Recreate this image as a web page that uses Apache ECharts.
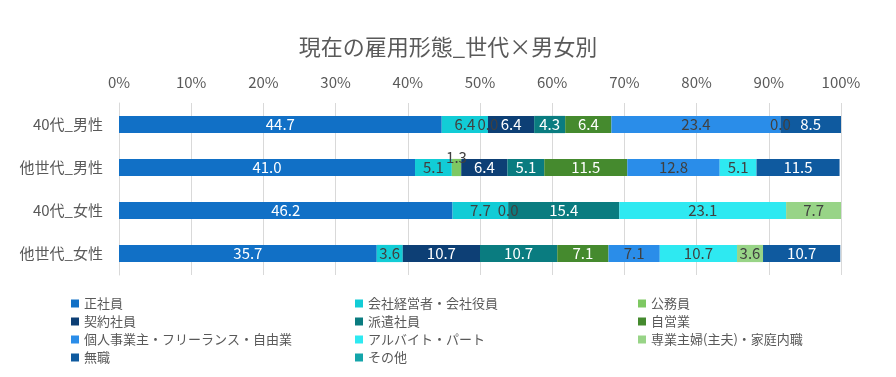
<!DOCTYPE html>
<html>
<head>
<meta charset="utf-8">
<script src="https://cdn.jsdelivr.net/npm/echarts@6/dist/echarts.min.js"></script>
<style>
html, body { margin: 0; padding: 0; background: #fff; }
#chart { width: 896px; height: 377px; }
</style>
</head>
<body>
<div id="chart"></div>
<script>
var categories = ['40代_男性', '他世代_男性', '40代_女性', '他世代_女性'];

var seiShain   = [44.7, 41.0, 46.2, 35.7];
var keiei      = [6.4, 5.1, 7.7, 3.6];
var koumuin    = [0.0, 1.3, 0.0, null];
var keiyaku    = [6.4, 6.4, null, 10.7];
var haken      = [4.3, 5.1, 15.4, 10.7];
var jiei       = [6.4, 11.5, null, 7.1];
var kojin      = [23.4, 12.8, null, 7.1];
var arubaito   = [0.0, 5.1, 23.1, 10.7];
var sengyou    = [null, null, 7.7, 3.6];
var mushoku    = [8.5, 11.5, null, 10.7];
var sonota     = [null, null, null, null];

var font = '"Noto Sans CJK JP", sans-serif';
var dark = '#404040';

function mk(name, data, color, labelColor) {
    return {
        name: name,
        type: 'bar',
        stack: 'total',
        barWidth: '40%',
        itemStyle: { color: color },
        label: {
            show: true,
            position: 'inside',
            color: labelColor,
            fontFamily: font,
            fontSize: 15,
            overflow: 'none',
            formatter: function (p) {
                return p.value == null ? '' : Number(p.value).toFixed(1);
            }
        },
        data: data
    };
}

var koumuinData = koumuin.map(function (v, i) {
    if (i === 1) {
        return { value: v, label: { position: 'top', distance: -6 } };
    }
    return v;
});

var myChart = echarts.init(document.getElementById('chart'));

myChart.setOption({
    animation: false,
    title: {
        text: '現在の雇用形態_世代×男女別',
        left: 'center',
        top: 31,
        textStyle: {
            fontFamily: font,
            fontSize: 22,
            fontWeight: 'normal',
            color: '#595959'
        }
    },
    legend: [{
        orient: 'vertical',
        left: 66,
        top: 292,
        itemWidth: 8,
        itemHeight: 8,
        itemGap: 5,
        icon: 'rect',
        textStyle: { fontFamily: font, fontSize: 13, color: '#595959' },
        data: ['正社員', '契約社員', '個人事業主・フリーランス・自由業', '無職']
    }, {
        orient: 'vertical',
        left: 350,
        top: 292,
        itemWidth: 8,
        itemHeight: 8,
        itemGap: 5,
        icon: 'rect',
        textStyle: { fontFamily: font, fontSize: 13, color: '#595959' },
        data: ['会社経営者・会社役員', '派遣社員', 'アルバイト・パート', 'その他']
    }, {
        orient: 'vertical',
        left: 633,
        top: 292,
        itemWidth: 8,
        itemHeight: 8,
        itemGap: 5,
        icon: 'rect',
        textStyle: { fontFamily: font, fontSize: 13, color: '#595959' },
        data: ['公務員', '自営業', '専業主婦(主夫)・家庭内職']
    }],
    grid: {
        left: 119,
        right: 55,
        top: 103,
        bottom: 102
    },
    xAxis: {
        type: 'value',
        position: 'top',
        min: 0,
        max: 100,
        interval: 10,
        axisLine: { show: false },
        axisTick: { show: false },
        axisLabel: {
            formatter: '{value}%',
            fontFamily: font,
            fontSize: 15,
            color: '#595959',
            margin: 13
        },
        splitLine: { lineStyle: { color: '#d9d9d9', width: 1 } }
    },
    yAxis: {
        type: 'category',
        inverse: true,
        data: categories,
        axisLine: { show: true, lineStyle: { color: '#d9d9d9' } },
        axisTick: { show: false },
        axisLabel: {
            fontFamily: font,
            fontSize: 15,
            color: '#595959',
            margin: 16
        }
    },
    series: [
        mk('正社員', seiShain, '#1170c6', '#ffffff'),
        mk('会社経営者・会社役員', keiei, '#12ccd6', dark),
        mk('公務員', koumuinData, '#7ec862', dark),
        mk('契約社員', keiyaku, '#0d3f75', '#ffffff'),
        mk('派遣社員', haken, '#0a7c80', '#ffffff'),
        mk('自営業', jiei, '#458a2e', '#ffffff'),
        mk('個人事業主・フリーランス・自由業', kojin, '#2a8de9', dark),
        mk('アルバイト・パート', arubaito, '#2ee9f1', dark),
        mk('専業主婦(主夫)・家庭内職', sengyou, '#98d487', dark),
        mk('無職', mushoku, '#0f5a9f', '#ffffff'),
        mk('その他', sonota, '#14a5aa', '#ffffff')
    ]
});
</script>
</body>
</html>
